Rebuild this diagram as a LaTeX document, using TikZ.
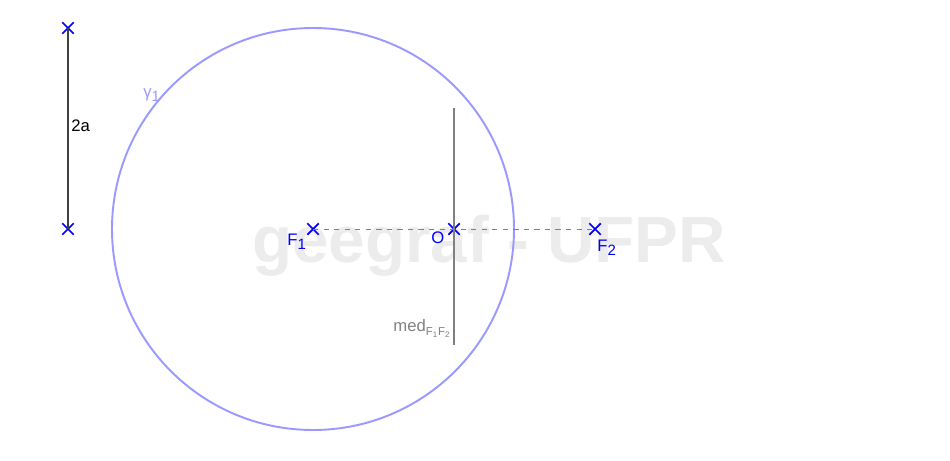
\documentclass[tikz,border=0pt]{standalone}
\usepackage{fontspec}
\setmainfont{Liberation Sans}
\usepackage{tikz}
\usetikzlibrary{shapes.misc}
\definecolor{ptblue}{RGB}{0,0,255}
\definecolor{circcol}{RGB}{153,153,255}
\definecolor{wmark}{RGB}{236,236,236}
\newcommand{\indice}[1]{\raisebox{-0.55ex}{\fontsize{8.5}{9}\selectfont #1}}
\tikzstyle{ponto} = [cross out, draw=ptblue, line width=1pt, minimum size=5.5pt, inner sep=0pt]
\tikzstyle{rotulo} = [text=ptblue, font=\fontsize{9.5}{10}\selectfont, inner sep=0pt]
\tikzstyle{tracejado} = [draw=gray, dashed, line width=0.5pt]

\begin{document}
\begin{tikzpicture}[x=0.02cm, y=-0.02cm]
        \useasboundingbox (0,0) rectangle (950,460);
        \node[text=wmark, font=\bfseries\fontsize{37.3}{40}\selectfont, anchor=base] (marca) at (489,262) {geegraf - UFPR};

        \node [ponto] at (68,28) (A) {};
        \node [ponto] at (68,229) (B) {};
        \node [ponto] at (313,229) (F1) {};
        \node [ponto] at (454,229) (O) {};
        \node [ponto] at (595,229) (F2) {};
        \coordinate (med1) at (454,108);
        \coordinate (med2) at (454,345);

        % circulo de centro F1 e raio 2a
        \draw [circcol, line width=1.1pt] (F1.center) circle (201);
        \path [tracejado] (F1.center) -- (F2.center);
        \draw [gray, line width=0.6pt] (med1) -- (med2);
        \draw [black!75, line width=0.6pt] (A.center) -- (B.center);

        \node [rotulo, anchor=base west] at (287,245) (lF1) {F\indice{1}};
        \node [rotulo, anchor=base west] at (431,243) (lO) {O};
        \node [rotulo, anchor=base west] at (597,251) (lF2) {F\indice{2}};
        \node [rotulo, text=circcol, anchor=base west] at (143,97) (lgama) {γ\indice{1}};
        \node [rotulo, text=black, anchor=base west] at (71,131) (l2a) {2a};
        \node [rotulo, text=gray, anchor=base west] at (393,331) (lmed) {med\raisebox{-0.5ex}{\fontsize{6.5}{7}\selectfont F\textsubscript{1}F\textsubscript{2}}};
    \end{tikzpicture}
\end{document}
